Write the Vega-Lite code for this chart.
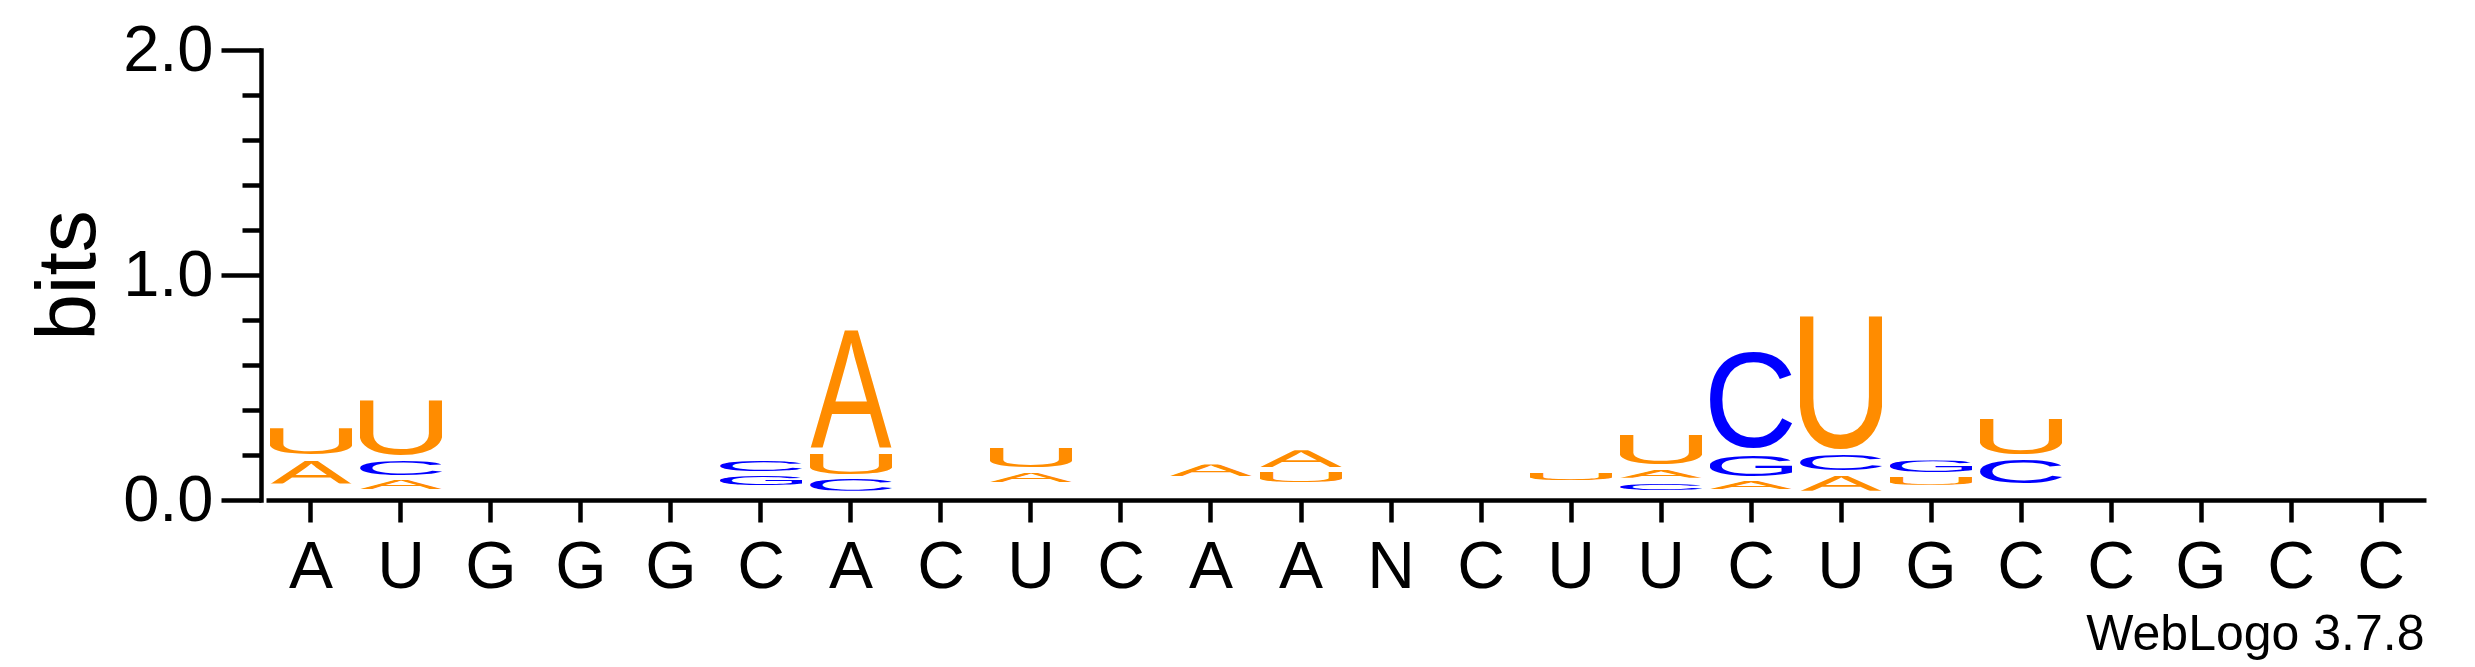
{
  "$schema": "https://vega.github.io/schema/vega-lite/v6.json",
  "autosize": {"type": "none"},
  "width": 2160,
  "height": 450,
  "padding": {"left": 266, "top": 50, "right": 49, "bottom": 167},
  "background": "white",
  "config": {
    "view": {"stroke": null},
    "font": "Liberation Sans",
    "axis": {
      "labelFont": "Liberation Sans",
      "titleFont": "Liberation Sans",
      "labelColor": "black",
      "titleColor": "black",
      "domainColor": "black",
      "tickColor": "black",
      "titleFontWeight": "normal",
      "grid": false
    }
  },
  "data": {
    "values": [
      {"pos": 1, "letter": "G", "bits": 0.030},
      {"pos": 1, "letter": "C", "bits": 0.032},
      {"pos": 1, "letter": "A", "bits": 0.128},
      {"pos": 1, "letter": "U", "bits": 0.140},
      {"pos": 2, "letter": "G", "bits": 0.038},
      {"pos": 2, "letter": "A", "bits": 0.062},
      {"pos": 2, "letter": "C", "bits": 0.089},
      {"pos": 2, "letter": "U", "bits": 0.274},
      {"pos": 6, "letter": "A", "bits": 0.027},
      {"pos": 6, "letter": "U", "bits": 0.029},
      {"pos": 6, "letter": "G", "bits": 0.062},
      {"pos": 6, "letter": "C", "bits": 0.070},
      {"pos": 7, "letter": "G", "bits": 0.030},
      {"pos": 7, "letter": "C", "bits": 0.074},
      {"pos": 7, "letter": "U", "bits": 0.118},
      {"pos": 7, "letter": "A", "bits": 0.563},
      {"pos": 9, "letter": "G", "bits": 0.026},
      {"pos": 9, "letter": "C", "bits": 0.043},
      {"pos": 9, "letter": "A", "bits": 0.064},
      {"pos": 9, "letter": "U", "bits": 0.111},
      {"pos": 11, "letter": "U", "bits": 0.025},
      {"pos": 11, "letter": "G", "bits": 0.030},
      {"pos": 11, "letter": "C", "bits": 0.040},
      {"pos": 11, "letter": "A", "bits": 0.074},
      {"pos": 12, "letter": "G", "bits": 0.026},
      {"pos": 12, "letter": "C", "bits": 0.042},
      {"pos": 12, "letter": "U", "bits": 0.068},
      {"pos": 12, "letter": "A", "bits": 0.096},
      {"pos": 15, "letter": "A", "bits": 0.020},
      {"pos": 15, "letter": "G", "bits": 0.025},
      {"pos": 15, "letter": "C", "bits": 0.031},
      {"pos": 15, "letter": "U", "bits": 0.055},
      {"pos": 16, "letter": "G", "bits": 0.033},
      {"pos": 16, "letter": "C", "bits": 0.055},
      {"pos": 16, "letter": "A", "bits": 0.058},
      {"pos": 16, "letter": "U", "bits": 0.160},
      {"pos": 17, "letter": "U", "bits": 0.038},
      {"pos": 17, "letter": "A", "bits": 0.058},
      {"pos": 17, "letter": "G", "bits": 0.120},
      {"pos": 17, "letter": "C", "bits": 0.465},
      {"pos": 18, "letter": "G", "bits": 0.030},
      {"pos": 18, "letter": "A", "bits": 0.090},
      {"pos": 18, "letter": "C", "bits": 0.092},
      {"pos": 18, "letter": "U", "bits": 0.636},
      {"pos": 19, "letter": "A", "bits": 0.027},
      {"pos": 19, "letter": "C", "bits": 0.030},
      {"pos": 19, "letter": "U", "bits": 0.056},
      {"pos": 19, "letter": "G", "bits": 0.074},
      {"pos": 20, "letter": "A", "bits": 0.030},
      {"pos": 20, "letter": "G", "bits": 0.033},
      {"pos": 20, "letter": "C", "bits": 0.129},
      {"pos": 20, "letter": "U", "bits": 0.185}
    ]
  },
  "transform": [
    {
      "stack": "bits",
      "groupby": ["pos"],
      "sort": [{"field": "bits", "order": "ascending"}],
      "as": ["lo", "hi"]
    },
    {"filter": "datum.bits >= 0.05"}
  ],
  "encoding": {
    "x": {
      "field": "pos",
      "type": "ordinal",
      "scale": {
        "domain": [1, 2, 3, 4, 5, 6, 7, 8, 9, 10, 11, 12, 13, 14, 15, 16, 17, 18, 19, 20, 21, 22, 23, 24],
        "paddingInner": 0.089,
        "paddingOuter": 0.0445
      },
      "axis": {
        "labelExpr": "['A','U','G','G','G','C','A','C','U','C','A','A','N','C','U','U','C','U','G','C','C','G','C','C'][datum.value - 1]",
        "labelAngle": 0,
        "labelFontSize": 66,
        "labelPadding": 13,
        "tickSize": 22,
        "tickWidth": 4.5,
        "domainWidth": 4.5,
        "title": "WebLogo 3.7.8",
        "titleFontSize": 50,
        "titleAlign": "right",
        "titleBaseline": "alphabetic",
        "titleX": 2158,
        "titleY": 149.5
      }
    },
    "y": {
      "field": "hi",
      "type": "quantitative",
      "scale": {"domain": [0, 2], "nice": false, "zero": true},
      "axis": {
        "values": [0, 0.2, 0.4, 0.6, 0.8, 1, 1.2, 1.4, 1.6, 1.8, 2],
        "labelExpr": "datum.value == 0 || datum.value == 1 || datum.value == 2 ? format(datum.value, '.1f') : ''",
        "tickSize": {"condition": {"test": "datum.value == 0 || datum.value == 1 || datum.value == 2", "value": 40}, "value": 19},
        "tickWidth": 4.5,
        "domainWidth": 4.5,
        "domainCap": "square",
        "offset": 5,
        "labelFontSize": 65,
        "labelPadding": 8,
        "title": "bits",
        "titleFontSize": 84,
        "titlePadding": 10
      }
    },
    "y2": {"field": "lo"}
  },
  "layer": [
    {
      "transform": [{"filter": "datum.letter == 'A'"}],
      "mark": {"type": "image", "aspect": false, "yOffset": 2.5, "y2Offset": -2.5},
      "encoding": {"url": {"value": "data:image/svg+xml;utf8,<svg xmlns='http://www.w3.org/2000/svg' viewBox='-3 -1466 1372 1466' preserveAspectRatio='none'><text x='0' y='0' font-family='Liberation Sans' font-size='2048' fill='rgb(255,140,0)'>A</text></svg>"}}
    },
    {
      "transform": [{"filter": "datum.letter == 'U'"}],
      "mark": {"type": "image", "aspect": false, "yOffset": 2.5, "y2Offset": -2.5},
      "encoding": {"url": {"value": "data:image/svg+xml;utf8,<svg xmlns='http://www.w3.org/2000/svg' viewBox='161 -1466 1153 1491' preserveAspectRatio='none'><text x='0' y='0' font-family='Liberation Sans' font-size='2048' fill='rgb(255,140,0)'>U</text></svg>"}}
    },
    {
      "transform": [{"filter": "datum.letter == 'C'"}],
      "mark": {"type": "image", "aspect": false, "yOffset": 2.5, "y2Offset": -2.5},
      "encoding": {"url": {"value": "data:image/svg+xml;utf8,<svg xmlns='http://www.w3.org/2000/svg' viewBox='102 -1491 1296 1516' preserveAspectRatio='none'><text x='0' y='0' font-family='Liberation Sans' font-size='2048' fill='rgb(0,0,255)'>C</text></svg>"}}
    },
    {
      "transform": [{"filter": "datum.letter == 'G'"}],
      "mark": {"type": "image", "aspect": false, "yOffset": 2.5, "y2Offset": -2.5},
      "encoding": {"url": {"value": "data:image/svg+xml;utf8,<svg xmlns='http://www.w3.org/2000/svg' viewBox='108 -1491 1324 1516' preserveAspectRatio='none'><text x='0' y='0' font-family='Liberation Sans' font-size='2048' fill='rgb(0,0,255)'>G</text></svg>"}}
    }
  ]
}
